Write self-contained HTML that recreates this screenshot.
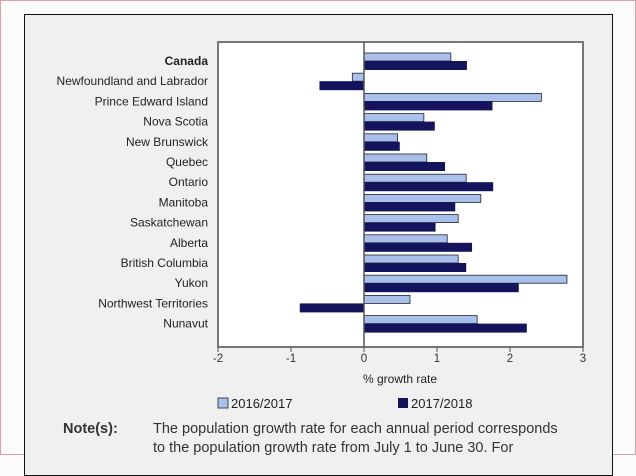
<!DOCTYPE html>
<html><head><meta charset="utf-8"><style>
html,body{margin:0;width:636px;height:455px;overflow:hidden;background:#fbfbfb;font-family:"Liberation Sans",sans-serif;}
#frame{position:absolute;left:0;top:0;width:634px;height:453px;border:1px solid #d8a0a8;box-sizing:content-box;}
#panel{position:absolute;left:24px;top:14px;width:587px;height:460px;border:1px solid #111;background:#f1f0f1;}
</style></head><body>
<div id="frame"></div>
<div id="panel"></div>
<svg id="chart" width="636" height="455" style="position:absolute;left:0;top:0"></svg>
<script>
const categories=["Canada","Newfoundland and Labrador","Prince Edward Island","Nova Scotia","New Brunswick","Quebec","Ontario","Manitoba","Saskatchewan","Alberta","British Columbia","Yukon","Northwest Territories","Nunavut"];
const series2016=[1.19,-0.16,2.43,0.82,0.46,0.86,1.40,1.60,1.29,1.14,1.29,2.78,0.63,1.55];
const series2017=[1.41,-0.61,1.76,0.97,0.49,1.11,1.77,1.25,0.98,1.48,1.40,2.12,-0.88,2.23];
const xTicks=[-2,-1,0,1,2,3];
const NS="http://www.w3.org/2000/svg";
const svg=document.getElementById('chart');
const L=218,R=583,T=42,B=347,xmin=-2,xmax=3;
const x=v=>L+(v-xmin)/(xmax-xmin)*(R-L);
const rowY=i=>61+i*20.2;
function mk(t,a,p){const e=document.createElementNS(NS,t);for(const k in a)e.setAttribute(k,a[k]);(p||svg).appendChild(e);return e;}
const plot=mk('rect',{x:L,y:T,width:R-L,height:B-T,fill:'#fff',stroke:'#777','stroke-width':2});


xTicks.forEach(t=>{
 const tk=mk('line',{x1:x(t),x2:x(t),y1:B,y2:B+5,stroke:'#555'});
 
 
 const tl=mk('text',{x:x(t),y:B+15,'text-anchor':'middle','font-size':11.5,fill:'#333'});
 tl.textContent=t;
 
 
});
categories.forEach((c,i)=>{
 const cy=rowY(i);
 const lab=mk('text',{x:208,y:cy+4,'text-anchor':'end','font-size':12,fill:'#222','font-weight':i==0?'bold':'normal'});
 lab.textContent=c;
 
 
 const v1=series2016[i],v2=series2017[i];
 const b1=mk('rect',{x:Math.min(x(0),x(v1)),y:cy-8,width:Math.abs(x(v1)-x(0)),height:8,fill:'#a9c0ea',stroke:'#223','stroke-width':0.8});
 
 
 const b2=mk('rect',{x:Math.min(x(0),x(v2)),y:cy,width:Math.abs(x(v2)-x(0)),height:9,fill:'#14145c'});
 
 
});
const zl=mk('line',{x1:x(0),x2:x(0),y1:T,y2:B,stroke:'#555','stroke-width':1.5});


const at=mk('text',{x:400,y:383,'text-anchor':'middle','font-size':12,fill:'#222'});
at.textContent='% growth rate';


const lg1=mk('rect',{x:218,y:398,width:10,height:10,fill:'#a9c0ea',stroke:'#445'});


const lt1=mk('text',{x:231,y:408,'font-size':13,fill:'#222'});lt1.textContent='2016/2017';


const lg2=mk('rect',{x:398,y:398,width:10,height:10,fill:'#14145c'});


const lt2=mk('text',{x:411,y:408,'font-size':13,fill:'#222'});lt2.textContent='2017/2018';


const nt=mk('text',{x:63,y:433,'font-size':14.5,'font-weight':'bold',fill:'#333'});nt.textContent='Note(s):';


const n1=mk('text',{x:153,y:433,'font-size':14.5,fill:'#333'});n1.textContent='The population growth rate for each annual period corresponds';


const n2=mk('text',{x:153,y:452,'font-size':14.5,fill:'#333'});n2.textContent='to the population growth rate from July 1 to June 30. For';


</script>
</body></html>
